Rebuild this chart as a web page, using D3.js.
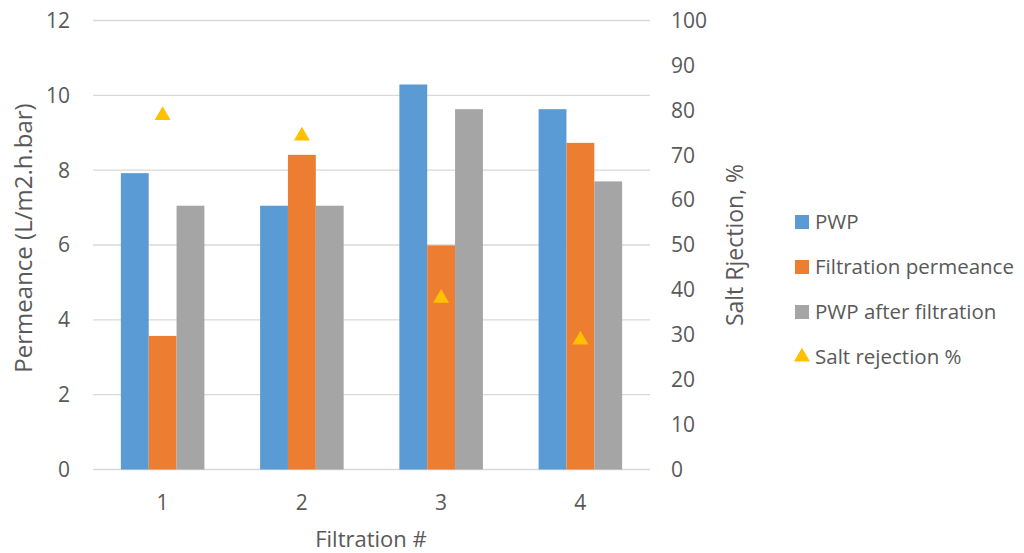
<!DOCTYPE html>
<html>
<head>
<meta charset="utf-8">
<script src="https://cdn.jsdelivr.net/npm/d3@7.9.0/dist/d3.min.js"></script>
<style>
  body { margin: 0; background: #fff; }
  svg { font-family: "Open Sans", Lato, sans-serif; }
  text { fill: #595959; }
</style>
</head>
<body>
<svg id="chart" width="1024" height="553"></svg>
<script>
const categories = ['1', '2', '3', '4'];
const pwp = [7.92, 7.05, 10.29, 9.63];
const filtration = [3.57, 8.41, 5.99, 8.73];
const pwpAfter = [7.05, 7.05, 9.63, 7.70];
const saltRejection = [79.1, 74.5, 38.4, 29.1];
const leftTicks = [0, 2, 4, 6, 8, 10, 12];
const rightTicks = [0, 10, 20, 30, 40, 50, 60, 70, 80, 90, 100];

const barSeries = [
  { name: 'PWP', values: pwp, color: '#5B9BD5' },
  { name: 'Filtration permeance', values: filtration, color: '#ED7D31' },
  { name: 'PWP after filtration', values: pwpAfter, color: '#A5A5A5' }
];

const svg = d3.select('#chart');
const plotLeft = 93, plotRight = 650, plotTop = 20.5, plotBottom = 469.5;

const x = d3.scaleBand().domain(categories).range([plotLeft, plotRight]).paddingInner(0.4).paddingOuter(0.2);
const yL = d3.scaleLinear().domain([0, 12]).range([plotBottom, plotTop]);
const yR = d3.scaleLinear().domain([0, 100]).range([plotBottom, plotTop]);
const xSub = d3.scaleBand().domain(d3.range(barSeries.length)).range([0, x.bandwidth()]);

// gridlines
svg.append('g').selectAll('line').data(leftTicks).join('line')
  .attr('x1', plotLeft).attr('x2', plotRight)
  .attr('y1', d => yL(d)).attr('y2', d => yL(d))
  .attr('stroke', '#d9d9d9').attr('stroke-width', 1.3);

// bars
barSeries.forEach((s, si) => {
  svg.append('g').selectAll('rect').data(s.values).join('rect')
    .attr('x', (d, i) => x(categories[i]) + xSub(si))
    .attr('y', d => yL(d))
    .attr('width', xSub.bandwidth())
    .attr('height', d => yL(0) - yL(d))
    .attr('fill', s.color);
});

// triangles
const tri = d3.symbol().type(d3.symbolTriangle).size(110);
svg.append('g').selectAll('path').data(saltRejection).join('path')
  .attr('d', tri)
  .attr('transform', (d, i) => `translate(${x(categories[i]) + x.bandwidth() / 2},${yR(d) + 1})`)
  .attr('fill', '#FFC000');

// left axis labels
svg.append('g').selectAll('text').data(leftTicks).join('text')
  .attr('x', 70).attr('y', d => yL(d)).attr('dy', '0.35em')
  .attr('text-anchor', 'end').attr('font-size', 21)
  .text(d => d);

// right axis labels
svg.append('g').selectAll('text').data(rightTicks).join('text')
  .attr('x', 671).attr('y', d => yR(d)).attr('dy', '0.35em')
  .attr('text-anchor', 'start').attr('font-size', 21)
  .text(d => d);

// category labels
svg.append('g').selectAll('text').data(categories).join('text')
  .attr('x', d => x(d) + x.bandwidth() / 2).attr('y', 503).attr('dy', '0.35em')
  .attr('text-anchor', 'middle').attr('font-size', 21)
  .text(d => d);

// axis titles
svg.append('text').attr('x', 371).attr('y', 539).attr('dy', '0.35em')
  .attr('text-anchor', 'middle').attr('font-size', 22).text('Filtration #');
svg.append('text').attr('transform', 'translate(24,238) rotate(-90)').attr('dy', '0.35em')
  .attr('text-anchor', 'middle').attr('font-size', 24).text('Permeance (L/m2.h.bar)');
svg.append('text').attr('transform', 'translate(735,245) rotate(-90)').attr('dy', '0.35em')
  .attr('text-anchor', 'middle').attr('font-size', 23).text('Salt Rjection, %');

// legend
const legendItems = barSeries.map(s => ({ name: s.name, color: s.color, shape: 'rect' }))
  .concat([{ name: 'Salt rejection %', color: '#FFC000', shape: 'tri' }]);
const lg = svg.append('g').selectAll('g').data(legendItems).join('g')
  .attr('transform', (d, i) => `translate(795,${222 + i * 45})`);
lg.filter(d => d.shape === 'rect').append('rect')
  .attr('x', 0).attr('y', -7).attr('width', 14).attr('height', 14)
  .attr('fill', d => d.color);
lg.filter(d => d.shape === 'tri').append('path')
  .attr('d', d3.symbol().type(d3.symbolTriangle).size(110))
  .attr('transform', 'translate(7,0)')
  .attr('fill', d => d.color);
lg.append('text').attr('x', 20).attr('y', 0).attr('dy', '0.35em')
  .attr('font-size', 20.5).text(d => d.name);
</script>
</body>
</html>
